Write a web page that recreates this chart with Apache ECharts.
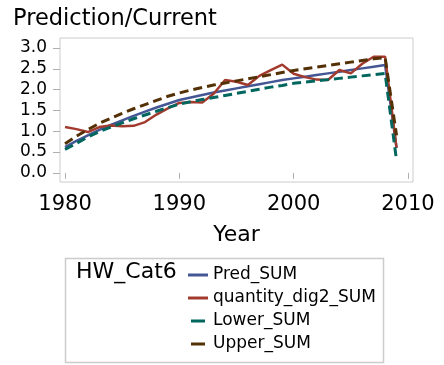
<!DOCTYPE html>
<html>
<head>
<meta charset="utf-8">
<script src="https://cdn.jsdelivr.net/npm/echarts@6/dist/echarts.min.js"></script>
<style>
  html, body { margin: 0; padding: 0; background: #fff; }
  #chart { width: 444px; height: 365px; }
</style>
</head>
<body>
<div id="chart"></div>
<script>
// Years 1980..2009, one value per year
const years = [
  1980, 1981, 1982, 1983, 1984, 1985, 1986, 1987, 1988, 1989,
  1990, 1991, 1992, 1993, 1994, 1995, 1996, 1997, 1998, 1999,
  2000, 2001, 2002, 2003, 2004, 2005, 2006, 2007, 2008, 2009,
];
const predSum = [
  0.62, 0.77, 0.90, 1.03, 1.15, 1.26, 1.37, 1.47, 1.57, 1.66,
  1.75, 1.81, 1.87, 1.93, 1.98, 2.03, 2.08, 2.13, 2.18, 2.23,
  2.27, 2.31, 2.35, 2.39, 2.43, 2.47, 2.51, 2.55, 2.59, 0.60,
];
const quantitySum = [
  1.10, 1.05, 0.98, 1.10, 1.14, 1.12, 1.13, 1.22, 1.40, 1.55,
  1.68, 1.70, 1.69, 1.90, 2.23, 2.19, 2.11, 2.33, 2.47, 2.60,
  2.38, 2.30, 2.24, 2.23, 2.47, 2.39, 2.62, 2.79, 2.79, 0.60,
];
const lowerSum = [
  0.56, 0.71, 0.86, 0.99, 1.10, 1.20, 1.30, 1.39, 1.48, 1.57,
  1.65, 1.71, 1.76, 1.81, 1.86, 1.91, 1.96, 2.01, 2.06, 2.10,
  2.15, 2.18, 2.21, 2.24, 2.27, 2.30, 2.33, 2.36, 2.39, 0.30,
];
const upperSum = [
  0.70, 0.88, 1.04, 1.19, 1.31, 1.43, 1.54, 1.64, 1.74, 1.84,
  1.92, 1.99, 2.05, 2.11, 2.16, 2.21, 2.26, 2.31, 2.36, 2.41,
  2.46, 2.50, 2.54, 2.58, 2.62, 2.66, 2.70, 2.74, 2.77, 0.90,
];
const xTicks = [1980, 1990, 2000, 2010];
const yTicks = [0, 0.5, 1, 1.5, 2, 2.5, 3];

const FONT = 'DejaVu Sans';
const pairs = (vals) => years.map((y, i) => [y, vals[i]]);

// legend markers: full bar for solid lines, a shorter centred bar for dashed ones
// (the tiny corner squares only pin the path's bounding box to 20x3)
const ICON_SOLID = 'path://M0,0H20V3H0Z';
const ICON_DASH = 'path://M0,0H0.01V0.01H0Z M3,0H17V3H3Z M19.99,2.99H20V3H19.99Z';

function lineSeries(name, vals, color, width, dashed) {
  return {
    name,
    type: 'line',
    data: pairs(vals),
    symbol: 'none',
    showSymbol: false,
    silent: true,
    lineStyle: dashed
      ? { color, width, type: [9, 5] }
      : { color, width },
    itemStyle: { color },
  };
}

const chart = echarts.init(document.getElementById('chart'), null, { renderer: 'canvas' });

chart.setOption({
  animation: false,
  backgroundColor: '#fff',
  title: {
    text: 'Prediction/Current',
    left: 13,
    top: 8,
    padding: 0,
    textStyle: { fontFamily: FONT, fontSize: 22.5, fontWeight: 'normal', color: '#000' },
  },
  grid: {
    left: 60, right: 31, top: 38, bottom: 183,
    show: true, borderColor: '#cccccc', borderWidth: 1,
  },
  xAxis: {
    type: 'value',
    min: 1979.56,
    max: 2010.44,
    name: 'Year',
    nameLocation: 'middle',
    nameGap: 42,
    nameTextStyle: { fontFamily: FONT, fontSize: 22, color: '#000' },
    axisLine: { show: false },
    splitLine: { show: false },
    axisTick: { show: true, length: 6, customValues: xTicks, lineStyle: { color: '#b0b0b0' } },
    axisLabel: {
      customValues: xTicks,
      margin: 12,
      formatter: (v) => String(v),
      fontFamily: FONT, fontSize: 21, color: '#000',
    },
  },
  yAxis: {
    type: 'value',
    min: -0.22,
    max: 3.24,
    axisLine: { show: false },
    splitLine: { show: false },
    axisTick: { show: true, length: 7, customValues: yTicks, lineStyle: { color: '#b0b0b0' } },
    axisLabel: {
      customValues: yTicks,
      margin: 13,
      formatter: (v) => v.toFixed(1),
      fontFamily: FONT, fontSize: 17, color: '#000',
    },
  },
  legend: {
    orient: 'vertical',
    left: 188,
    top: 266,
    padding: 0,
    itemGap: 5,
    itemWidth: 20,
    itemHeight: 3,
    symbolKeepAspect: false,
    selectedMode: false,
    textStyle: { fontFamily: FONT, fontSize: 17, lineHeight: 18, color: '#000' },
    data: [
      { name: 'Pred_SUM', icon: ICON_SOLID },
      { name: 'quantity_dig2_SUM', icon: ICON_SOLID },
      { name: 'Lower_SUM', icon: ICON_DASH },
      { name: 'Upper_SUM', icon: ICON_DASH },
    ],
  },
  graphic: [
    {
      type: 'rect',
      shape: { x: 65.5, y: 258.5, width: 318, height: 104 },
      style: { fill: 'none', stroke: '#cccccc', lineWidth: 1.5 },
      silent: true,
    },
    {
      type: 'text',
      x: 76,
      y: 261,
      style: { text: 'HW_Cat6', fontFamily: FONT, fontSize: 22, fill: '#000', verticalAlign: 'top' },
      silent: true,
    },
  ],
  series: [
    lineSeries('Pred_SUM', predSum, '#445694', 2.5, false),
    lineSeries('quantity_dig2_SUM', quantitySum, '#A23A2E', 2.5, false),
    lineSeries('Lower_SUM', lowerSum, '#01665E', 3, true),
    lineSeries('Upper_SUM', upperSum, '#543005', 3, true),
  ],
});
</script>
</body>
</html>
